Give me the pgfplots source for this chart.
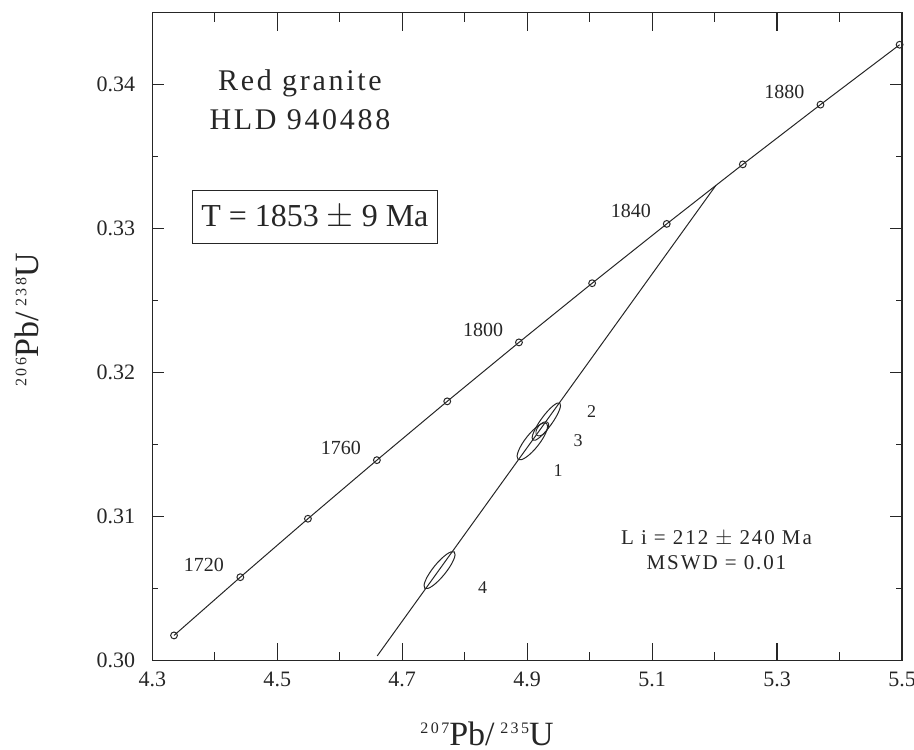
\documentclass[border=0pt]{standalone}
\usepackage{pgfplots}
\pgfplotsset{compat=1.18}
\usepackage{pgfplotstable}
\usepackage{fontspec}
\setmainfont{Liberation Serif}
\newfontfamily\spc[LetterSpace=9]{Liberation Serif}
\newcommand{\iso}[1]{\raisebox{6pt}{\fontsize{8}{8}\selectfont\addfontfeatures{LetterSpace=15}#1}}

\pgfplotstableread{
age x y
1700 4.334767 0.301754
1720 4.440884 0.305798
1740 4.549115 0.309857
1760 4.659493 0.313926
1780 4.772076 0.318010
1800 4.886893 0.322104
1820 5.003995 0.326213
1840 5.123428 0.330333
1860 5.245234 0.334467
1880 5.369471 0.338614
1900 5.496171 0.342774
}\concordia

\begin{document}
\begin{tikzpicture}
\begin{axis}[name=ax, scale only axis, width=374.85pt, height=324pt,
  xmin=4.3, xmax=5.5, ymin=0.30, ymax=0.345,
  xtick={4.3,4.5,4.7,4.9,5.1,5.3,5.5}, xticklabels={4.3,4.5,4.7,4.9,5.1,5.3,5.5},
  ytick={0.30,0.31,0.32,0.33,0.34}, yticklabels={0.30,0.31,0.32,0.33,0.34},
  minor x tick num=1, minor y tick num=1,
  tick align=inside,
  xtick style={/pgfplots/major tick length=9pt, /pgfplots/minor tick length=4.5pt},
  ytick style={/pgfplots/major tick length=6pt, /pgfplots/minor tick length=3pt},
  tick style={line width=0.6pt, black!85},
  axis line style={line width=0.6pt, black!85},
  clip=false,
  xticklabel style={font=\fontsize{11}{13}\selectfont, text=black!85, yshift=-2pt},
  yticklabel style={font=\fontsize{11}{13}\selectfont, text=black!85, xshift=-5pt},
  xlabel={\iso{207}Pb/\,\iso{235}U},
  ylabel={\iso{206}Pb/\,\iso{238}U},
  xlabel style={at={([yshift=-42.3pt]axis description cs:0.4465,0)}, anchor=base, font=\fontsize{17}{20}\selectfont, text=black!85},
  ylabel style={at={([xshift=-57pt]axis description cs:0,0.5258)}, anchor=base, font=\fontsize{17}{20}\selectfont, text=black!85},
]
% concordia
\addplot[black!85, line width=0.5pt, mark=o, mark size=1.7pt, mark options={line width=0.5pt}] table[x=x,y=y] {\concordia};
% discordia
\addplot[black!85, line width=0.5pt] coordinates {(4.66,0.30033) (5.2023,0.33302)};
% error ellipses
\addplot[black!85, only marks, mark=o, mark size=1pt, mark options={line width=0.5pt, rotate=51.7, xscale=11.5, yscale=3.5}] coordinates {(4.9083,0.31523)};
\addplot[black!85, only marks, mark=o, mark size=1pt, mark options={line width=0.5pt, rotate=54, xscale=11.5, yscale=2.8}] coordinates {(4.9307,0.3166)};
\addplot[black!85, only marks, mark=o, mark size=1pt, mark options={line width=0.45pt, rotate=50, xscale=4.2, yscale=2.3}] coordinates {(4.9243,0.3161)};
\addplot[black!85, only marks, mark=o, mark size=1pt, mark options={line width=0.5pt, rotate=51, xscale=11.7, yscale=3.2}] coordinates {(4.7598,0.30629)};
% labels
\node[text=black!85, font=\spc\fontsize{15}{18}\selectfont] at (axis cs:4.5363,0.34009) {Red granite};
\node[text=black!85, font=\spc\fontsize{15}{18}\selectfont] at (axis cs:4.5363,0.33759) {HLD 940488};
\node[draw=black!85, line width=0.5pt, text=black!85, minimum width=122.3pt, minimum height=26.65pt, inner sep=0pt, font=\fontsize{16}{19}\selectfont] at (axis cs:4.5603,0.33081) {T = 1853 $\pm$ 9 Ma};
\node[text=black!85, font=\spc\fontsize{10.5}{12}\selectfont] at (axis cs:5.2030,0.30851) {L i = 212 $\pm$ 240 Ma};
\node[text=black!85, font=\spc\fontsize{10.5}{12}\selectfont] at (axis cs:5.2030,0.30678) {MSWD = 0.01};
\node[text=black!85, font=\fontsize{10}{12}\selectfont] at (axis cs:5.3118,0.33947) {1880};
\node[text=black!85, font=\fontsize{10}{12}\selectfont] at (axis cs:5.0659,0.33122) {1840};
\node[text=black!85, font=\fontsize{10}{12}\selectfont] at (axis cs:4.8296,0.32295) {1800};
\node[text=black!85, font=\fontsize{10}{12}\selectfont] at (axis cs:4.6019,0.31477) {1760};
\node[text=black!85, font=\fontsize{10}{12}\selectfont] at (axis cs:4.3827,0.30662) {1720};
\node[text=black!85, font=\fontsize{9}{11}\selectfont] at (axis cs:5.0030,0.31728) {2};
\node[text=black!85, font=\fontsize{9}{11}\selectfont] at (axis cs:4.9816,0.31527) {3};
\node[text=black!85, font=\fontsize{9}{11}\selectfont] at (axis cs:4.9496,0.31323) {1};
\node[text=black!85, font=\fontsize{9}{11}\selectfont] at (axis cs:4.8286,0.30509) {4};
\end{axis}
\pgfresetboundingbox
\path ([shift={(-76.15pt,-44.65pt)}]ax.south west) rectangle ([shift={(6pt,6.35pt)}]ax.north east);
\end{tikzpicture}
\end{document}
